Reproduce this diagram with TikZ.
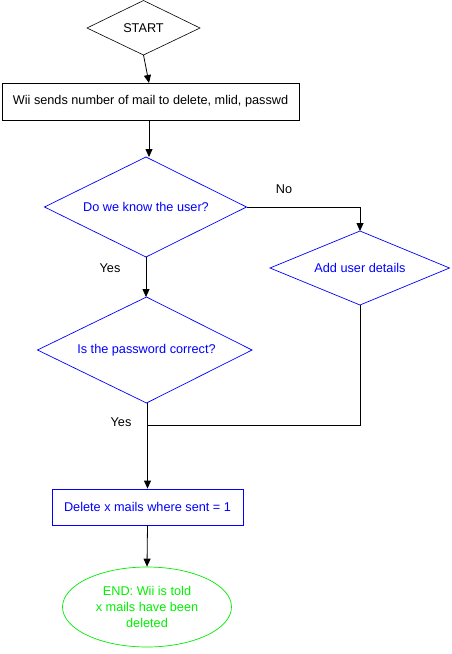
\documentclass[tikz,border=0pt]{standalone}
\usepackage{fontspec}
\setmainfont{Liberation Sans}
\usetikzlibrary{shapes.geometric,arrows.meta}
\begin{document}
\begin{tikzpicture}[x=1pt,y=-1pt,
  every node/.style={font=\fontsize{12.7}{15}\selectfont, inner sep=0pt},
  box/.style={draw, rectangle, line width=0.8pt},
  arr/.style={-{Triangle[width=7pt,length=8pt]}, line width=0.8pt},
  ln/.style={line width=0.8pt},
  dia/.style={blue, line width=0.7pt},
  lbl/.style={text=black}]
\useasboundingbox (0,0) rectangle (452,654);
% START
\draw[line width=0.6pt] (87,28) -- (143.5,0.5) -- (200,28) -- (143.5,55) -- cycle;
\node (start) at (143.5,28) {START};
\coordinate (startb) at (143.5,55);
% Box 1
\node[box, minimum width=297pt, minimum height=37pt] (b1) at (150.5,101.5) {Wii sends number of mail to delete, mlid, passwd};
\coordinate (b1in) at (149,83); \coordinate (b1out) at (149,120);
% Diamond 1
\draw[dia] (44.5,207) -- (146,157) -- (246.5,207) -- (146,257) -- cycle;
\node[text=blue] (d1) at (146,207) {Do we know the user?};
\coordinate (d1t) at (149,157); \coordinate (d1b) at (146,257); \coordinate (d1r) at (246.5,207);
% Diamond 2
\draw[dia] (270,268) -- (360,231) -- (449.5,268) -- (360,305) -- cycle;
\node[text=blue] (d2) at (360,268) {Add user details};
\coordinate (d2t) at (360,231); \coordinate (d2b) at (360,305);
% Diamond 3
\draw[dia] (37.5,350) -- (146.5,297) -- (252,350) -- (146.5,403) -- cycle;
\node[text=blue] (d3) at (146.5,350) {Is the password correct?};
\coordinate (d3t) at (146,297); \coordinate (d3b) at (147.5,403);
% Box 2
\node[box, draw=blue, text=blue, minimum width=191pt, minimum height=36pt] (b2) at (147.5,507) {Delete x mails where sent = 1};
% End ellipse
\node[draw={rgb,255:red,0;green,235;blue,0}, ellipse, minimum width=169pt, minimum height=80pt, text={rgb,255:red,0;green,240;blue,0}, align=center, line width=0.7pt, font=\fontsize{12.7}{16}\selectfont] (end) at (147,607) {END: Wii is told\\x mails have been\\deleted};
% connectors
\draw[arr] (startb) -- (b1in);
\draw[arr] (b1out) -- (d1t);
\draw[arr] (d1r) -| (d2t);
\draw[arr] (d1b) -- (d3t);
\coordinate (j) at (147.5,425);
\draw[ln] (d2b) |- (j);
\draw[arr] (d3b) -- (b2.north);
\draw[arr] (b2.south) -- (end.north);
% labels
\node[lbl] (no) at (284,189) {No};
\node[lbl] (yes1) at (110,268) {Yes};
\node[lbl] (yes2) at (121,422) {Yes};
\end{tikzpicture}
\end{document}
